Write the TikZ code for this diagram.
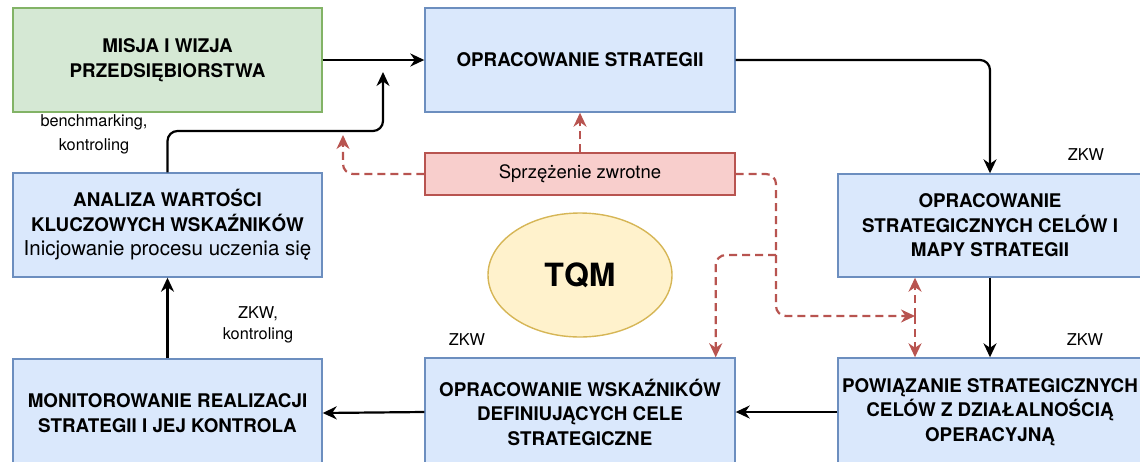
\documentclass[tikz,border=0pt]{standalone}
\usepackage{fontspec}
\setmainfont{TeX Gyre Heros}
\usetikzlibrary{arrows.meta,calc,shapes.geometric}
\definecolor{bluefill}{HTML}{DAE8FC}
\definecolor{blueline}{HTML}{6C8EBF}
\definecolor{greenfill}{HTML}{D5E8D4}
\definecolor{greenline}{HTML}{82B366}
\definecolor{redfill}{HTML}{F8CECC}
\definecolor{redline}{HTML}{B85450}
\definecolor{yelfill}{HTML}{FFF2CC}
\definecolor{yelline}{HTML}{D6B656}
\tikzset{
  box/.style={draw=blueline, fill=bluefill, line width=1.4pt, align=center, inner sep=0pt,
    font=\fontsize{18.8}{24.5}\selectfont\bfseries},
  greenbox/.style={box, draw=greenline, fill=greenfill},
  redbox/.style={box, draw=redline, fill=redfill, font=\fontsize{18.5}{24}\selectfont},
  lbl/.style={align=center, inner sep=0pt, font=\fontsize{16.3}{24}\selectfont},
  arr/.style={line width=2.2pt, draw=black, -{Stealth[length=14pt,width=13pt,inset=4.5pt]}, rounded corners=10pt},
  fb/.style={line width=2.2pt, draw=redline, dash pattern=on 8pt off 5pt,
    -{Stealth[length=14pt,width=13pt,inset=4.5pt,fill=redline]}, rounded corners=10pt},
}
\begin{document}
\begin{tikzpicture}[x=1pt,y=-1pt]
\useasboundingbox (0,0) rectangle (1140,461);
\clip (0,0) rectangle (1140,461);

\node[greenbox, minimum width=309pt, minimum height=104pt] (misja) at (167.5,60) {MISJA I WIZJA\\PRZEDSIĘBIORSTWA};
\node[box, minimum width=310pt, minimum height=104pt] (strat) at (580,60) {OPRACOWANIE STRATEGII};
\node[redbox, minimum width=310pt, minimum height=42pt] (sprz) at (580,174) {Sprzężenie zwrotne};
\node[box, minimum width=304pt, minimum height=103pt] (cele) at (990,225.5) {OPRACOWANIE\\STRATEGICZNYCH CELÓW I\\MAPY STRATEGII};
\node[box, minimum width=309pt, minimum height=104pt] (analiza) at (167.5,225) {ANALIZA WARTOŚCI\\KLUCZOWYCH WSKAŹNIKÓW\\{\fontsize{20.5}{24.5}\selectfont\mdseries Inicjowanie procesu uczenia się}};
\node[box, minimum width=309pt, minimum height=108pt] (monit) at (167.5,413) {MONITOROWANIE REALIZACJI\\STRATEGII I JEJ KONTROLA};
\node[box, minimum width=310pt, minimum height=108pt] (wsk) at (580,412) {OPRACOWANIE WSKAŹNIKÓW\\DEFINIUJĄCYCH CELE\\STRATEGICZNE};
\node[box, minimum width=304pt, minimum height=108pt] (powiaz) at (990,412) {POWIĄZANIE STRATEGICZNYCH\\CELÓW Z DZIAŁALNOŚCIĄ\\OPERACYJNĄ};
\node[ellipse, draw=yelline, fill=yelfill, line width=1.4pt, minimum width=184pt, minimum height=124pt,
  inner sep=0pt, font=\fontsize{32}{38}\selectfont\bfseries] (tqm) at (580,275) {TQM};

% labels
\node[lbl] (l1) at (94,134) {benchmarking,\\kontroling};
\node[lbl, font=\fontsize{16.3}{21}\selectfont] (l2) at (258,325) {ZKW,\\kontroling};
\node[lbl] (l3) at (1086,155) {ZKW};
\node[lbl] (l4) at (1085,340) {ZKW};
\node[lbl] (l5) at (467,340) {ZKW};

% black connectors
\coordinate (mtip) at (383,72);
\coordinate (mj) at (383,131);
\draw[arr] (misja.east) -- (strat.west);
\draw[arr] (analiza.north) |- (mj) -- (mtip);
\draw[arr] (strat.east) -| (cele.north);
\draw[arr] (cele.south) -- (powiaz.north);
\draw[arr] (powiaz.west) -- (wsk.east);
\draw[arr] (wsk.west) -- (monit.east);
\draw[arr] (monit.north) -- (analiza.south);

% feedback connectors
\coordinate (rtip) at (343,135);
\coordinate (c1) at (776,316);
\coordinate (c2) at (776,255);
\coordinate (dj) at (915,316);
\coordinate (wtop) at ($(wsk.north east)+(-20,0)$);
\draw[fb] (sprz.north) -- (strat.south);
\draw[fb] (sprz.west) -| (rtip);
\draw[fb] (sprz.east) -| (c1) -- (dj);
\draw[fb] (c2) -| (wtop);
\draw[fb] (dj) -- (dj |- cele.south);
\draw[fb] (dj) -- (dj |- powiaz.north);
\end{tikzpicture}
\end{document}
